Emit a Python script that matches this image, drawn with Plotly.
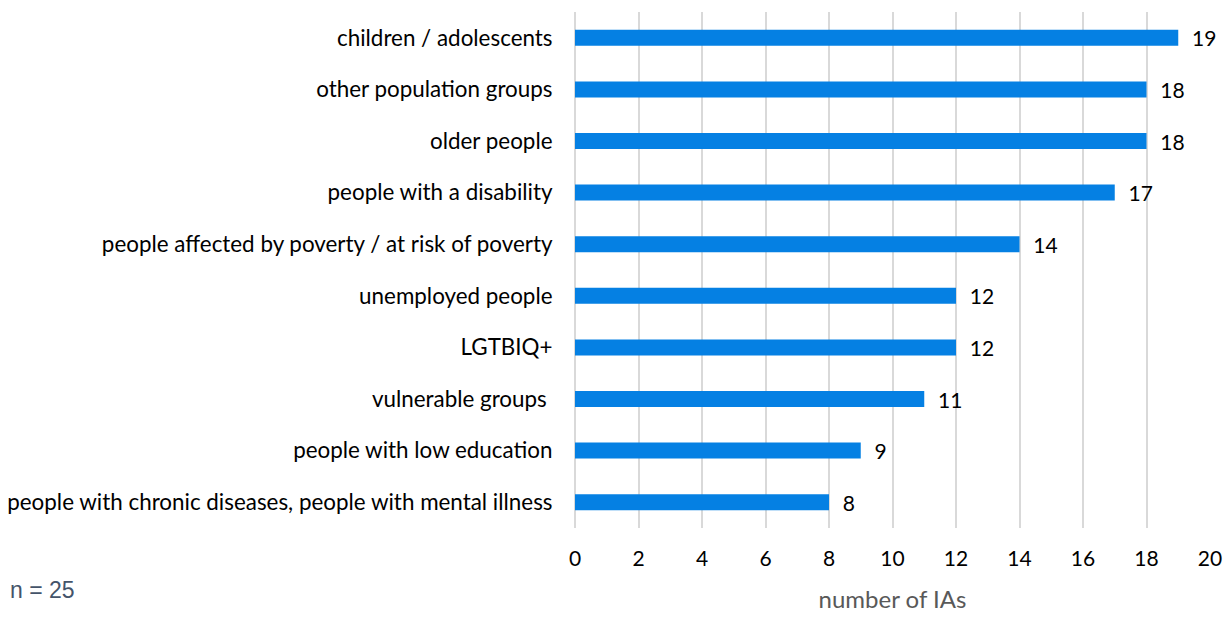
import plotly.graph_objects as go

categories = [
    "children / adolescents",
    "other population groups",
    "older people",
    "people with a disability",
    "people affected by poverty / at risk of poverty",
    "unemployed people",
    "LGTBIQ+",
    "vulnerable groups ",
    "people with low education",
    "people with chronic diseases, people with mental illness",
]
values = [19, 18, 18, 17, 14, 12, 12, 11, 9, 8]
x_ticks = [0, 2, 4, 6, 8, 10, 12, 14, 16, 18, 20]

FONT = "Lato, 'Open Sans', sans-serif"

fig = go.Figure(go.Bar(
    y=categories,
    x=values,
    orientation="h",
    marker=dict(color="#0580E3", line=dict(width=0)),
    width=0.31,
    text=values,
    texttemplate="  %{x}",
    textposition="outside",
    constraintext="none",
    textfont=dict(family=FONT, size=21, color="#000000"),
    cliponaxis=False,
))

fig.update_layout(
    width=1231, height=621,
    margin=dict(l=567, r=29, t=4, b=101, autoexpand=False),
    plot_bgcolor="white", paper_bgcolor="white",
    showlegend=False,
    xaxis=dict(
        range=[0, 20], tickvals=x_ticks, showgrid=True, automargin=False,
        gridcolor="#D9D9D9", gridwidth=1.5, zeroline=True,
        zerolinecolor="#D9D9D9", zerolinewidth=1.5,
        ticks="outside", ticklen=12, tickcolor="rgba(0,0,0,0)",
        tickfont=dict(family=FONT, size=21, color="#000000"),
        title=dict(text="number of IAs", font=dict(family=FONT, size=24, color="#595959"), standoff=21),
    ),
    yaxis=dict(
        categoryorder="array", categoryarray=categories[::-1], automargin=False,
        showgrid=False, ticks="outside", ticklen=17, tickcolor="rgba(0,0,0,0)",
        tickfont=dict(family=FONT, size=22.4, color="#000000"),
    ),
    annotations=[dict(
        text="n = 25", xref="paper", yref="paper", x=-567/635, y=-62/516,
        xanchor="left", yanchor="middle", showarrow=False,
        font=dict(family="Liberation Sans, Arial, sans-serif", size=23, color="#44546A"),
    )],
)

fig.write_html("out.html")
